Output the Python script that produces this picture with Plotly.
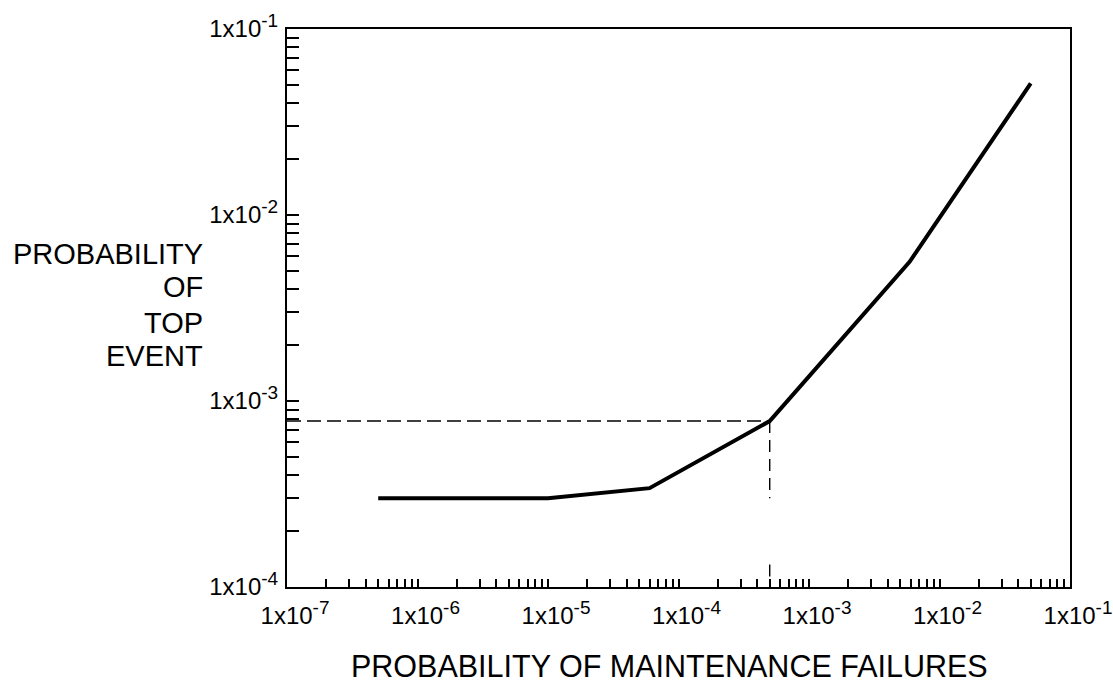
import plotly.graph_objects as go

# Data
maint_fail = [5.0e-7, 1.0e-5, 6.0e-5, 5.0e-4, 5.9e-3, 5.0e-2]
top_event = [3.0e-4, 3.0e-4, 3.4e-4, 7.8e-4, 5.6e-3, 5.1e-2]

# Reference (dashed) guide through the highlighted point
guide_point_x = 5.0e-4
guide_point_y = 7.8e-4
guide_vgap_top = 3.0e-4
guide_vgap_bottom = 1.32e-4
guide_v_end = 1.12e-4

x_tick_vals = [1e-7, 1e-6, 1e-5, 1e-4, 1e-3, 1e-2, 1e-1]
x_exponents = ["-7", "-6", "-5", "-4", "-3", "-2", "-1"]
y_tick_vals = [1e-4, 1e-3, 1e-2, 1e-1]
y_exponents = ["-4", "-3", "-2", "-1"]

x_title = "PROBABILITY OF MAINTENANCE FAILURES"
y_title_lines = ["PROBABILITY", "OF", "TOP", "EVENT"]


def sci_label(exp):
    return "1x10<sup><span style='font-size:19px'>" + exp + "</span></sup>"


x_tick_text = [sci_label(e) for e in x_exponents]
y_tick_text = [sci_label(e) for e in y_exponents]

x_minor = [k * d for d in x_tick_vals[:-1] for k in range(2, 10)]
y_minor = [k * d for d in y_tick_vals[:-1] for k in range(2, 10)]

FONT = "Liberation Sans, Arial, Helvetica, sans-serif"

fig = go.Figure()

# dashed horizontal guide
fig.add_trace(go.Scatter(
    x=[x_tick_vals[0], guide_point_x], y=[guide_point_y, guide_point_y],
    mode="lines", line=dict(color="black", width=1.4, dash="14px,6px"),
    hoverinfo="skip", showlegend=False))
# dashed vertical guide (with a gap as in the reference)
fig.add_trace(go.Scatter(
    x=[guide_point_x, guide_point_x, None, guide_point_x, guide_point_x],
    y=[guide_point_y, guide_vgap_top, None, guide_vgap_bottom, guide_v_end],
    mode="lines", line=dict(color="black", width=1.4, dash="12px,7px"),
    hoverinfo="skip", showlegend=False))
# main curve
fig.add_trace(go.Scatter(
    x=maint_fail, y=top_event, mode="lines",
    line=dict(color="black", width=4), showlegend=False))

axis_common = dict(
    type="log", showgrid=False, zeroline=False, automargin=False,
    showline=True, linecolor="black", linewidth=2, mirror=True,
    ticks="inside", tickcolor="black", tickwidth=1.5,
    tickmode="array",
    tickfont=dict(family=FONT, size=24, color="black"),
)

fig.update_xaxes(
    **axis_common, range=[-7, -1], tickvals=x_tick_vals, ticktext=x_tick_text,
    ticklen=8, ticklabelshift=8, ticklabelstandoff=6,
    minor=dict(tickmode="array", tickvals=x_minor, ticks="inside", ticklen=8,
               tickcolor="black", tickwidth=1.5, showgrid=False),
)
fig.update_yaxes(
    **axis_common, range=[-4, -1], tickvals=y_tick_vals, ticktext=y_tick_text,
    ticklen=12, ticklabelstandoff=2,
    minor=dict(tickmode="array", tickvals=y_minor, ticks="inside", ticklen=12,
               tickcolor="black", tickwidth=1.5, showgrid=False),
)

annotations = [dict(text=x_title, xref="paper", yref="paper",
                    x=0.4879, y=-0.1407, xanchor="center", yanchor="middle",
                    showarrow=False, font=dict(family=FONT, size=30.5, color="black"))]
y_line_pos = [0.596, 0.537, 0.474, 0.414]
for txt, yp in zip(y_title_lines, y_line_pos):
    annotations.append(dict(text=txt, xref="paper", yref="paper",
                            x=-0.1047, y=yp, xanchor="right", yanchor="middle",
                            showarrow=False,
                            font=dict(family=FONT, size=29, color="black")))

fig.update_layout(
    width=1113, height=683,
    margin=dict(l=287, r=43, t=29, b=96),
    paper_bgcolor="white", plot_bgcolor="white",
    annotations=annotations,
    showlegend=False,
)

fig.write_html("out.html")
